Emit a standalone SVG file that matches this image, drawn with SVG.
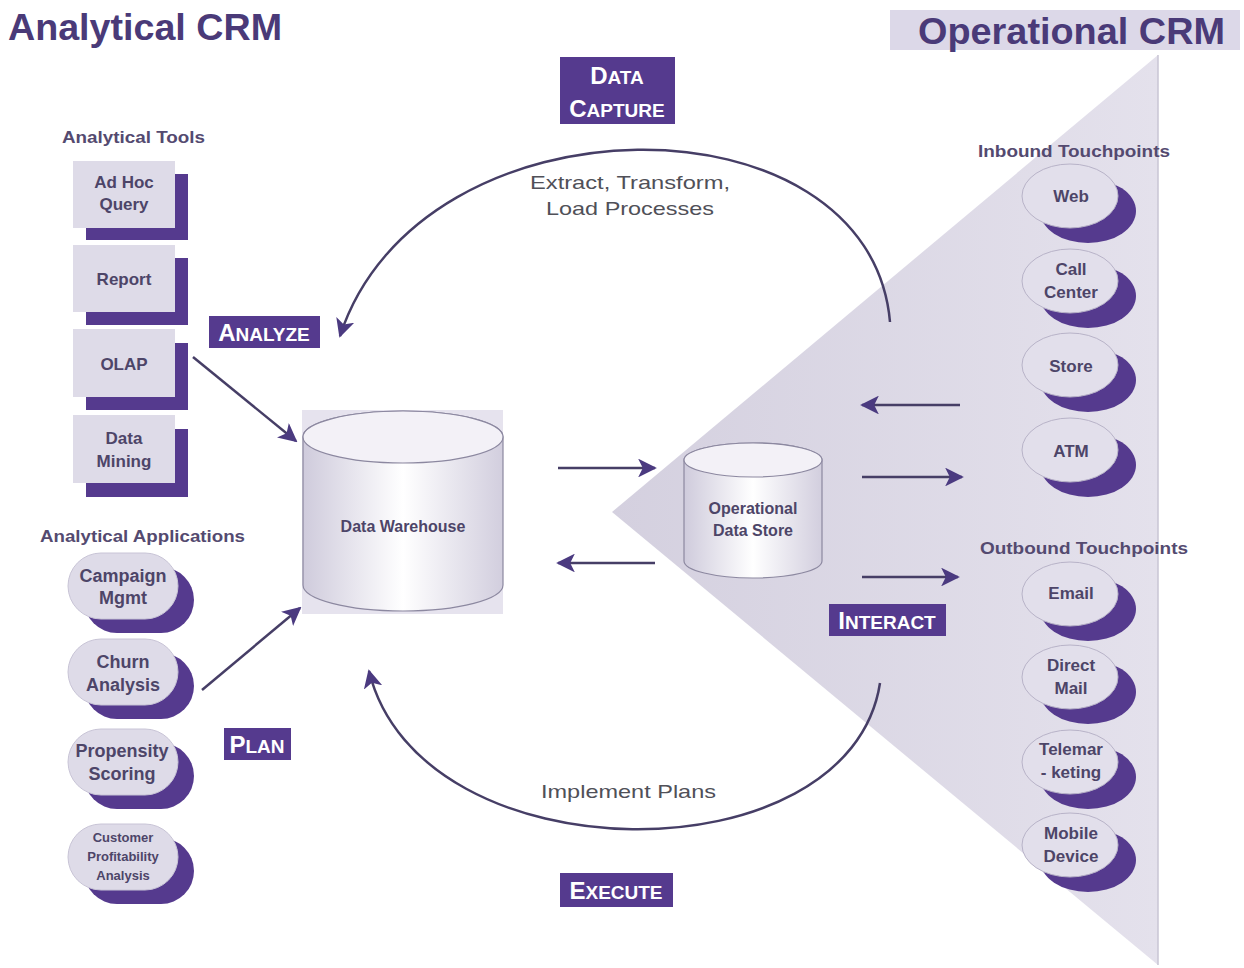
<svg xmlns="http://www.w3.org/2000/svg" width="1244" height="968" viewBox="0 0 1244 968">
<defs>
<style>
.t{font-family:"Liberation Sans",Arial,sans-serif;font-weight:bold;fill:#4d4568;text-anchor:middle}
.hd{font-family:"Liberation Sans",Arial,sans-serif;font-weight:bold;fill:#544a70;font-size:16px}
.ttl{font-family:"Liberation Sans",Arial,sans-serif;font-weight:bold;fill:#4a3a78;font-size:36px}
.lbl{font-family:"Liberation Sans",Arial,sans-serif;font-weight:bold;fill:#ffffff;text-anchor:middle}
.cap{fill:#553a8e}
.box{fill:#dedbe8}
.sh{fill:#553a8e}
.pill{fill:#dedbe8;stroke:#c8c4d6;stroke-width:1}
.el{fill:#e2dfeb;stroke:#b8b3c8;stroke-width:1}
.ln{fill:none;stroke:#463e66;stroke-width:2.5}
.proc{font-family:"Liberation Sans",Arial,sans-serif;fill:#505058;font-size:19px}
</style>
<linearGradient id="cyl" x1="0" y1="0" x2="1" y2="0">
<stop offset="0" stop-color="#cfcbdc"/>
<stop offset="0.5" stop-color="#ffffff"/>
<stop offset="1" stop-color="#d2cede"/>
</linearGradient>
<linearGradient id="tri" x1="0" y1="0" x2="1" y2="0">
<stop offset="0" stop-color="#d4d0df"/>
<stop offset="1" stop-color="#e4e1ec"/>
</linearGradient>
<marker id="ah" viewBox="0 0 10 10" refX="9" refY="5" markerWidth="7.5" markerHeight="7.5" orient="auto" markerUnits="strokeWidth">
<path d="M0,0 L10,5 L0,10 L2.5,5 z" fill="#4b3a80"/>
</marker>
</defs>
<rect width="1244" height="968" fill="#ffffff"/>

<!-- titles -->
<g id="title-analytical">
<text class="ttl" x="8" y="40" textLength="274" lengthAdjust="spacingAndGlyphs">Analytical CRM</text>
</g>
<g id="title-operational">
<rect x="890" y="10" width="350" height="40" fill="#dcd8e8"/>
<text class="ttl" x="918" y="44" textLength="307" lengthAdjust="spacingAndGlyphs">Operational CRM</text>
</g>

<!-- triangle -->
<g id="operational-area">
<polygon points="612,512 1158,55 1158,965" fill="url(#tri)"/>
<line x1="1158" y1="55" x2="1158" y2="965" stroke="#c8c4d4" stroke-width="1.5"/>
</g>

<!-- section headers -->
<text class="hd" x="62" y="143" textLength="143" lengthAdjust="spacingAndGlyphs">Analytical Tools</text>
<text class="hd" x="40" y="542" textLength="205" lengthAdjust="spacingAndGlyphs">Analytical Applications</text>
<text class="hd" x="978" y="157" textLength="192" lengthAdjust="spacingAndGlyphs">Inbound Touchpoints</text>
<text class="hd" x="980" y="554" textLength="208" lengthAdjust="spacingAndGlyphs">Outbound Touchpoints</text>

<!-- analytical tools -->
<g id="adhoc">
<rect class="sh" x="86" y="174" width="102" height="66"/>
<rect class="box" x="73" y="161" width="102" height="67"/>
<text class="t" x="124" y="188" font-size="17">Ad Hoc</text>
<text class="t" x="124" y="210" font-size="17">Query</text>
</g>
<g id="report">
<rect class="sh" x="86" y="258" width="102" height="67"/>
<rect class="box" x="73" y="245" width="102" height="67"/>
<text class="t" x="124" y="285" font-size="17">Report</text>
</g>
<g id="olap">
<rect class="sh" x="86" y="343" width="102" height="67"/>
<rect class="box" x="73" y="329" width="102" height="68"/>
<text class="t" x="124" y="370" font-size="17">OLAP</text>
</g>
<g id="datamining">
<rect class="sh" x="86" y="429" width="102" height="68"/>
<rect class="box" x="73" y="415" width="102" height="68"/>
<text class="t" x="124" y="444" font-size="17">Data</text>
<text class="t" x="124" y="467" font-size="17">Mining</text>
</g>

<!-- analytical applications -->
<g id="campaign">
<rect class="sh" x="84" y="567" width="110" height="66" rx="33"/>
<rect class="pill" x="68" y="553" width="110" height="66" rx="33"/>
<text class="t" x="123" y="582" font-size="18">Campaign</text>
<text class="t" x="123" y="604" font-size="18">Mgmt</text>
</g>
<g id="churn">
<rect class="sh" x="84" y="653" width="110" height="66" rx="33"/>
<rect class="pill" x="68" y="639" width="110" height="66" rx="33"/>
<text class="t" x="123" y="668" font-size="18">Churn</text>
<text class="t" x="123" y="691" font-size="18">Analysis</text>
</g>
<g id="propensity">
<rect class="sh" x="84" y="743" width="110" height="66" rx="33"/>
<rect class="pill" x="68" y="729" width="110" height="66" rx="33"/>
<text class="t" x="122" y="757" font-size="18">Propensity</text>
<text class="t" x="122" y="780" font-size="18">Scoring</text>
</g>
<g id="profitability">
<rect class="sh" x="84" y="838" width="110" height="66" rx="33"/>
<rect class="pill" x="68" y="824" width="110" height="66" rx="33"/>
<text class="t" x="123" y="842" font-size="13">Customer</text>
<text class="t" x="123" y="861" font-size="13">Profitability</text>
<text class="t" x="123" y="880" font-size="13">Analysis</text>
</g>

<!-- data warehouse -->
<g id="datawarehouse">
<rect x="302" y="410" width="201" height="204" fill="#e6e3ee"/>
<path d="M303,437 L303,585 A100,26 0 0 0 503,585 L503,437 A100,26 0 0 0 303,437 z" fill="url(#cyl)" stroke="#8c88a0" stroke-width="1.2"/>
<ellipse cx="403" cy="437" rx="100" ry="26" fill="#f3f1f7" stroke="#8c88a0" stroke-width="1.2"/>
<text class="t" x="403" y="532" font-size="16">Data Warehouse</text>
</g>

<!-- operational data store -->
<g id="ods">
<path d="M684,460 L684,561 A69,17 0 0 0 822,561 L822,460 A69,17 0 0 0 684,460 z" fill="url(#cyl)" stroke="#8c88a0" stroke-width="1.2"/>
<ellipse cx="753" cy="460" rx="69" ry="17" fill="#f3f1f7" stroke="#8c88a0" stroke-width="1.2"/>
<text class="t" x="753" y="514" font-size="16">Operational</text>
<text class="t" x="753" y="536" font-size="16">Data Store</text>
</g>

<!-- touchpoints -->
<g id="web">
<ellipse class="sh" cx="1088" cy="211" rx="48" ry="32"/>
<ellipse class="el" cx="1070" cy="196" rx="48" ry="32"/>
<text class="t" x="1071" y="202" font-size="17">Web</text>
</g>
<g id="callcenter">
<ellipse class="sh" cx="1088" cy="296" rx="48" ry="32"/>
<ellipse class="el" cx="1070" cy="281" rx="48" ry="32"/>
<text class="t" x="1071" y="275" font-size="17">Call</text>
<text class="t" x="1071" y="298" font-size="17">Center</text>
</g>
<g id="store">
<ellipse class="sh" cx="1088" cy="380" rx="48" ry="32"/>
<ellipse class="el" cx="1070" cy="365" rx="48" ry="32"/>
<text class="t" x="1071" y="372" font-size="17">Store</text>
</g>
<g id="atm">
<ellipse class="sh" cx="1088" cy="465" rx="48" ry="32"/>
<ellipse class="el" cx="1070" cy="450" rx="48" ry="32"/>
<text class="t" x="1071" y="457" font-size="17">ATM</text>
</g>
<g id="email">
<ellipse class="sh" cx="1088" cy="609" rx="48" ry="32"/>
<ellipse class="el" cx="1070" cy="594" rx="48" ry="32"/>
<text class="t" x="1071" y="599" font-size="17">Email</text>
</g>
<g id="directmail">
<ellipse class="sh" cx="1088" cy="692" rx="48" ry="32"/>
<ellipse class="el" cx="1070" cy="677" rx="48" ry="32"/>
<text class="t" x="1071" y="671" font-size="17">Direct</text>
<text class="t" x="1071" y="694" font-size="17">Mail</text>
</g>
<g id="telemarketing">
<ellipse class="sh" cx="1088" cy="777" rx="48" ry="32"/>
<ellipse class="el" cx="1070" cy="762" rx="48" ry="32"/>
<text class="t" x="1071" y="755" font-size="17">Telemar</text>
<text class="t" x="1071" y="778" font-size="17">- keting</text>
</g>
<g id="mobile">
<ellipse class="sh" cx="1088" cy="860" rx="48" ry="32"/>
<ellipse class="el" cx="1070" cy="845" rx="48" ry="32"/>
<text class="t" x="1071" y="839" font-size="17">Mobile</text>
<text class="t" x="1071" y="862" font-size="17">Device</text>
</g>

<!-- connectors -->
<g id="connectors">
<path class="ln" d="M890,322 C870,90 420,90 340,336" marker-end="url(#ah)"/>
<path class="ln" d="M880,683 C850,880 420,880 369,671" marker-end="url(#ah)"/>
<line class="ln" x1="193" y1="357" x2="296" y2="441" marker-end="url(#ah)"/>
<line class="ln" x1="202" y1="690" x2="300" y2="608" marker-end="url(#ah)"/>
<line class="ln" x1="558" y1="468" x2="655" y2="468" marker-end="url(#ah)"/>
<line class="ln" x1="655" y1="563" x2="558" y2="563" marker-end="url(#ah)"/>
<line class="ln" x1="960" y1="405" x2="862" y2="405" marker-end="url(#ah)"/>
<line class="ln" x1="862" y1="477" x2="962" y2="477" marker-end="url(#ah)"/>
<line class="ln" x1="862" y1="577" x2="958" y2="577" marker-end="url(#ah)"/>
</g>

<!-- process texts -->
<text class="proc" x="530" y="189" textLength="200" lengthAdjust="spacingAndGlyphs">Extract, Transform,</text>
<text class="proc" x="546" y="215" textLength="168" lengthAdjust="spacingAndGlyphs">Load Processes</text>
<text class="proc" x="541" y="798" textLength="175" lengthAdjust="spacingAndGlyphs">Implement Plans</text>

<!-- phase labels -->
<g id="label-datacapture">
<rect class="cap" x="560" y="57" width="115" height="67"/>
<text class="lbl" x="617" y="84"><tspan font-size="24">D</tspan><tspan font-size="19">ATA</tspan></text>
<text class="lbl" x="617" y="117"><tspan font-size="24">C</tspan><tspan font-size="19">APTURE</tspan></text>
</g>
<g id="label-analyze">
<rect class="cap" x="209" y="316" width="111" height="32"/>
<text class="lbl" x="264" y="341"><tspan font-size="24">A</tspan><tspan font-size="19">NALYZE</tspan></text>
</g>
<g id="label-plan">
<rect class="cap" x="224" y="728" width="67" height="32"/>
<text class="lbl" x="257" y="753"><tspan font-size="24">P</tspan><tspan font-size="19">LAN</tspan></text>
</g>
<g id="label-execute">
<rect class="cap" x="560" y="873" width="113" height="34"/>
<text class="lbl" x="616" y="899"><tspan font-size="24">E</tspan><tspan font-size="19">XECUTE</tspan></text>
</g>
<g id="label-interact">
<rect class="cap" x="829" y="604" width="117" height="32"/>
<text class="lbl" x="887" y="629"><tspan font-size="24">I</tspan><tspan font-size="19">NTERACT</tspan></text>
</g>
</svg>
